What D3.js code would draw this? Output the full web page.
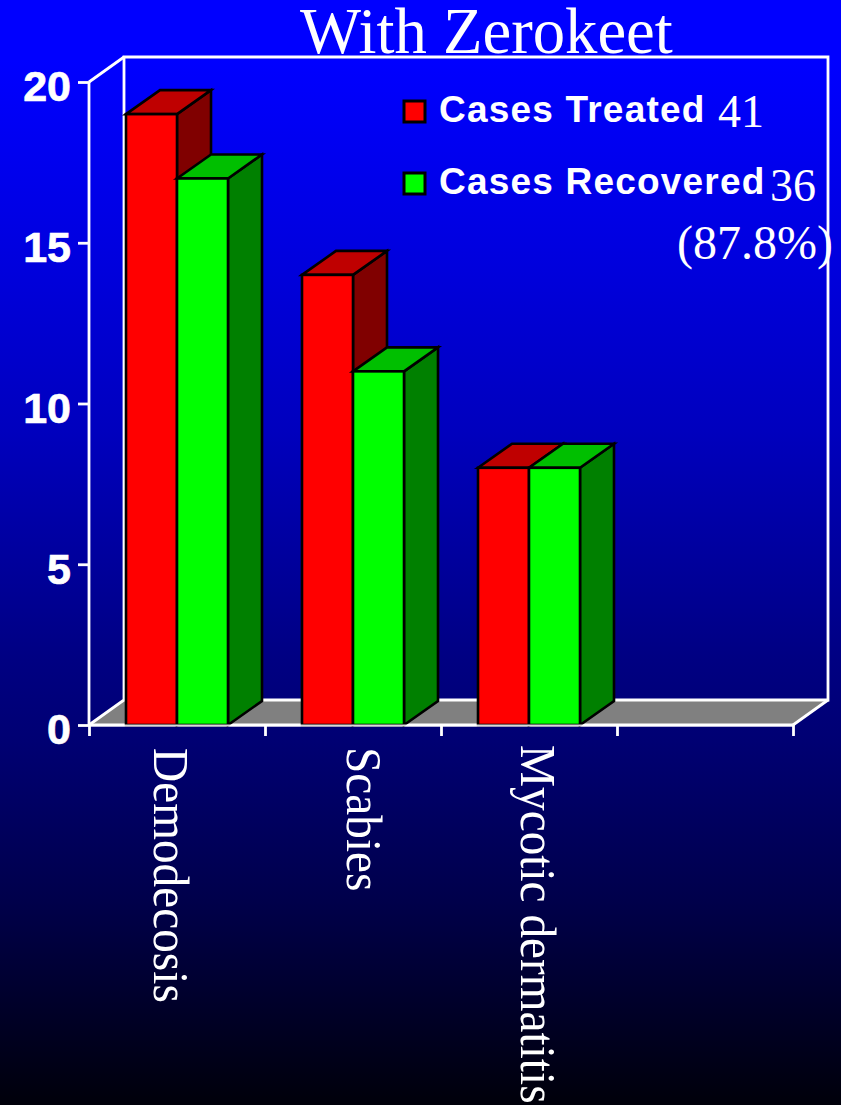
<!DOCTYPE html>
<html><head><meta charset="utf-8">
<script src="https://cdn.jsdelivr.net/npm/d3@7"></script>
<style>html,body{margin:0;padding:0;background:#000}svg{display:block}</style>
</head><body><svg id="c" width="841" height="1105"></svg>
<script>
const categories = ["Demodecosis","Scabies","Mycotic dermatitis",""];
const treated = [19,14,8];
const recovered = [17,11,8];
const yTicks = [0,5,10,15,20];
const titleText = "With Zerokeet";
const legendLabels = ["Cases Treated","Cases Recovered"];
const legendNotes = ["41","36","(87.8%)"];

const svg = d3.select("#c");
const defs = svg.append("defs");
const g = defs.append("linearGradient").attr("id","bg").attr("x1",0).attr("y1",0).attr("x2",0).attr("y2",1);
[[60,255],[270,220],[430,190],[660,130],[740,115],[900,75],[1105,10]].forEach(([py,b])=>{
  g.append("stop").attr("offset",py/1105).attr("stop-color",`rgb(0,0,${b})`);
});
svg.append("rect").attr("width",841).attr("height",1105).attr("fill","url(#bg)");

const DX=35, DY=-25, BX=34, BY=-24;
const x = d3.scalePoint().domain(d3.range(5)).range([89,793]);
const y = d3.scaleLinear().domain([0,20]).range([725,82]);
const X0=89, X1=793, Y0=y(0), Y1=y(20);

const pts = a=>a.map(p=>p.join(",")).join(" ");
// floor
svg.append("polygon").attr("points",pts([[X0,Y0],[X0+DX,Y0+DY],[X1+DX,Y0+DY],[X1,Y0]])).attr("fill","#808080");
// walls
const white = s=>s.attr("stroke","#fff").attr("stroke-width",2.8).attr("fill","none");
white(svg.append("polyline").attr("points",pts([[X0,Y0],[X0+DX,Y0+DY],[X0+DX,Y1+DY],[X1+DX,Y1+DY],[X1+DX,Y0+DY],[X0+DX,Y0+DY]])));
white(svg.append("polyline").attr("points",pts([[X1+DX,Y0+DY],[X1,Y0]])));
white(svg.append("line").attr("x1",X0).attr("y1",Y1).attr("x2",X0+DX).attr("y2",Y1+DY));

// axes
const axL = svg.append("g").attr("transform",`translate(${X0},0)`)
  .call(d3.axisLeft(y).tickValues(yTicks).tickSize(11).tickPadding(7).tickFormat(d3.format("d")));
axL.selectAll("path,line").attr("stroke","#fff").attr("stroke-width",2.8);
axL.selectAll("text").attr("fill","#fff").attr("font-family","'Liberation Sans'").attr("font-weight","bold")
  .attr("font-size",43).attr("dy","0.44em").attr("x",-18)
  .attr("stroke","#fff").attr("stroke-width",0.7);
axL.select("path").attr("d",`M0,${Y1}V${Y0}`);

const axB = svg.append("g").attr("transform",`translate(0,${Y0})`)
  .call(d3.axisBottom(x).tickValues(d3.range(5)).tickSize(11).tickFormat(""));
axB.selectAll("path,line").attr("stroke","#fff").attr("stroke-width",2.8);
axB.select("path").attr("d",`M${X0},0H${X1}`);

// bars
const barW = 51, gap = 37;
function bar(i,v,k,front,top,side){
  const xl = x(i)+gap+k*barW, xr = xl+barW, yt=y(v), yb=Y0;
  const gr = svg.append("g").attr("stroke","#000").attr("stroke-width",2.6).attr("stroke-linejoin","miter");
  gr.append("polygon").attr("points",pts([[xr,yt],[xr+BX,yt+BY],[xr+BX,yb+BY],[xr,yb]])).attr("fill",side);
  gr.append("polygon").attr("points",pts([[xl,yt],[xl+BX,yt+BY],[xr+BX,yt+BY],[xr,yt]])).attr("fill",top);
  gr.append("rect").attr("x",xl).attr("y",yt).attr("width",barW).attr("height",yb-yt).attr("fill",front);
}
treated.forEach((v,i)=>{
  bar(i,v,0,"#ff0000","#bf0000","#800000");
  bar(i,recovered[i],1,"#00ff00","#00bf00","#008000");
});
// repaint axis line over bar bases
svg.append("line").attr("x1",X0).attr("x2",X1).attr("y1",Y0+0.5).attr("y2",Y0+0.5).attr("stroke","#fff").attr("stroke-opacity",0.85).attr("stroke-width",2);

// category labels
const serif = "'Liberation Serif'";
categories.forEach((c,i)=>{
  if(!c) return;
  const lx = [154,347,521][i], ly=[748,747,745][i];
  svg.append("text").attr("transform",`translate(${lx},${ly}) rotate(90) scale(1,1.08)`)
    .attr("fill","#fff").attr("font-family",serif).attr("font-size",47.3).text(c);
});
// title
svg.append("text").attr("x",300).attr("y",53).attr("fill","#fff").attr("font-family",serif).attr("font-size",64.7).text(titleText);
// legend
[["#ff0000",100],["#00ff00",172]].forEach(([col,yy],i)=>{
  svg.append("rect").attr("x",404).attr("y",yy+1).attr("width",21).attr("height",21).attr("fill",col).attr("stroke","#000").attr("stroke-width",3);
  svg.append("text").attr("x",439).attr("y",yy+22).attr("fill","#fff").attr("font-family","'Liberation Sans'")
    .attr("font-weight","bold").attr("font-size",37).attr("letter-spacing",1.2).text(legendLabels[i]);
});
[[718,127,46],[770,201,46],[677,259,48]].forEach(([tx,ty,fs],i)=>{
  svg.append("text").attr("x",tx).attr("y",ty).attr("fill","#fff").attr("font-family",serif).attr("font-size",fs).text(legendNotes[i]);
});
</script></body></html>
